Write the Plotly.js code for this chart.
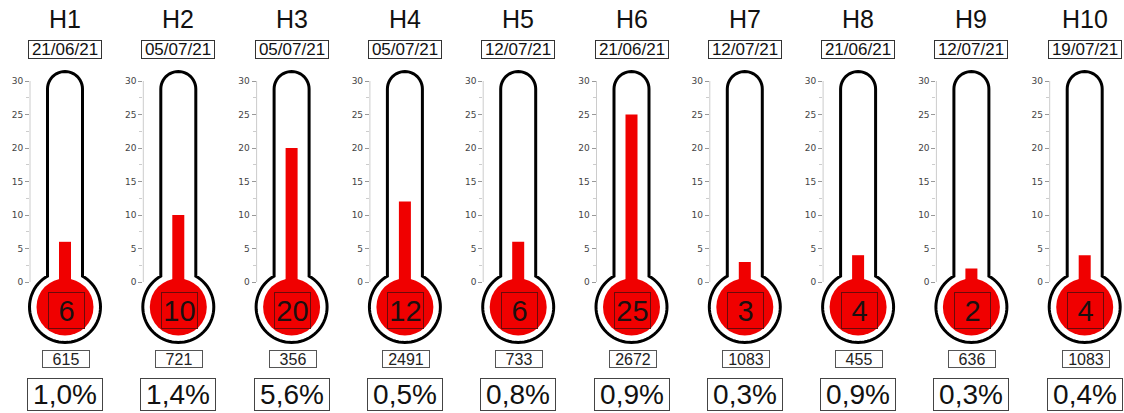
<!DOCTYPE html>
<html><head><meta charset="utf-8">
<script src="https://cdn.plot.ly/plotly-3.0.1.min.js"></script>
<style>html,body{margin:0;padding:0;background:#fff}#chart{width:1124px;height:413px}</style>
</head><body><div id="chart"></div>
<script>
// ---- data ----
const categories = ['H1','H2','H3','H4','H5','H6','H7','H8','H9','H10'];
const dates = ['21/06/21','05/07/21','05/07/21','05/07/21','12/07/21','21/06/21','12/07/21','21/06/21','12/07/21','19/07/21'];
const values = [6, 10, 20, 12, 6, 25, 3, 4, 2, 4];
const counts = [615, 721, 356, 2491, 733, 2672, 1083, 455, 636, 1083];
const percents = ['1,0%','1,4%','5,6%','0,5%','0,8%','0,9%','0,3%','0,9%','0,3%','0,4%'];
const scaleTicks = [0, 5, 10, 15, 20, 25, 30];

// ---- geometry ----
const W = 1124, H = 413;
const firstCenter = 65, step = 113.3;
const y30 = 81, y0 = 282, k = (y0 - y30) / 30;
const halfDom = 35;
const px = x => x / W, py = y => 1 - y / H;
const RED = '#f00000';
const FONT = 'Liberation Sans, Arial, sans-serif';

const data = [], shapes = [], annotations = [];
const layout = {
  width: W, height: H, margin: {l: 0, r: 0, t: 0, b: 0},
  paper_bgcolor: '#fff', plot_bgcolor: 'rgba(0,0,0,0)',
  showlegend: false, shapes, annotations
};

const minorVals = [];
for (let v = 0; v <= 30; v += 2.5) if (v % 5 !== 0) minorVals.push(v);

function thermoPath(c) {
  const rt = 17.5, arcC = 89, cy = 307, R = 35.5;
  const yj = cy - Math.sqrt(R * R - rt * rt);
  const pts = [];
  pts.push([c - rt, yj]);
  for (let j = 0; j <= 24; j++) {
    const t = Math.PI - Math.PI * j / 24;
    pts.push([c + rt * Math.cos(t), arcC - rt * Math.sin(t)]);
  }
  pts.push([c + rt, yj]);
  const phi0 = Math.atan2(cy - yj, rt);
  const sweep = Math.PI + 2 * phi0;
  for (let j = 1; j <= 60; j++) {
    const a = phi0 - sweep * j / 60;
    pts.push([c + R * Math.cos(a), cy - R * Math.sin(a)]);
  }
  return 'M' + pts.map(p => px(p[0]).toFixed(5) + ',' + py(p[1]).toFixed(5)).join(' L') + ' Z';
}

categories.forEach((cat, i) => {
  const c = firstCenter + i * step;
  const n = i === 0 ? '' : String(i + 1);
  data.push({
    type: 'bar', x: [cat], y: [values[i]], xaxis: 'x' + n, yaxis: 'y' + n,
    marker: {color: RED, line: {width: 0}}, width: 12 / (2 * halfDom),
    hoverinfo: 'skip', showlegend: false
  });
  layout['xaxis' + n] = {
    domain: [px(c - halfDom), px(c + halfDom)], type: 'category',
    range: [-0.5, 0.5], visible: false, fixedrange: true
  };
  layout['yaxis' + n] = {
    domain: [0, 1], anchor: 'x' + n, range: [-(H - y0) / k, 30 + y30 / k],
    tickmode: 'array', tickvals: scaleTicks, ticks: 'outside', ticklen: 4,
    tickcolor: '#999', tickwidth: 1,
    tickfont: {family: 'DejaVu Sans, sans-serif', size: 9, color: '#444'},
    showgrid: false, zeroline: false, showline: false, fixedrange: true,
    minor: {tickmode: 'array', tickvals: minorVals, ticks: 'outside', ticklen: 3, tickcolor: '#ccc', showgrid: false}
  };
  shapes.push({type: 'line', xref: 'paper', yref: 'paper', layer: 'below',
    x0: px(c - halfDom), x1: px(c - halfDom), y0: py(y0), y1: py(y30),
    line: {color: '#ccc', width: 1}});
  shapes.push({type: 'path', xref: 'paper', yref: 'paper', layer: 'below',
    path: thermoPath(c), fillcolor: '#fff', line: {color: '#000', width: 3}});
  shapes.push({type: 'circle', xref: 'paper', yref: 'paper', layer: 'below',
    x0: px(c - 28.5), x1: px(c + 28.5), y0: py(307 + 28.5), y1: py(307 - 28.5),
    fillcolor: RED, line: {width: 0}});
  annotations.push({xref: 'paper', yref: 'paper', x: px(c), y: py(19), xanchor: 'center', yanchor: 'middle',
    text: cat, showarrow: false, font: {family: FONT, size: 25, color: '#111'}});
  annotations.push({xref: 'paper', yref: 'paper', x: px(c), y: py(49), xanchor: 'center', yanchor: 'middle',
    text: dates[i], showarrow: false, width: 72, height: 17, borderpad: 0,
    bordercolor: '#333', borderwidth: 1, bgcolor: '#fff',
    font: {family: FONT, size: 17, color: '#111'}});
  annotations.push({xref: 'paper', yref: 'paper', x: px(c + 1), y: py(310), xanchor: 'center', yanchor: 'middle',
    text: String(values[i]), showarrow: false, width: 35, height: 35, borderpad: 0,
    bordercolor: '#6b0a0a', borderwidth: 1, bgcolor: RED,
    font: {family: FONT, size: 29, color: '#1a1010'}});
  annotations.push({xref: 'paper', yref: 'paper', x: px(c + 1), y: py(359), xanchor: 'center', yanchor: 'middle',
    text: String(counts[i]), showarrow: false, width: 46, height: 16, borderpad: 0,
    bordercolor: '#555', borderwidth: 1, bgcolor: '#fff',
    font: {family: FONT, size: 16, color: '#222'}});
  annotations.push({xref: 'paper', yref: 'paper', x: px(c), y: py(394), xanchor: 'center', yanchor: 'middle',
    text: percents[i], showarrow: false, width: 74, height: 31, borderpad: 0,
    bordercolor: '#444', borderwidth: 1, bgcolor: '#fff',
    font: {family: FONT, size: 28, color: '#111'}});
});

Plotly.newPlot('chart', data, layout, {displayModeBar: false, staticPlot: true});
</script></body></html>
